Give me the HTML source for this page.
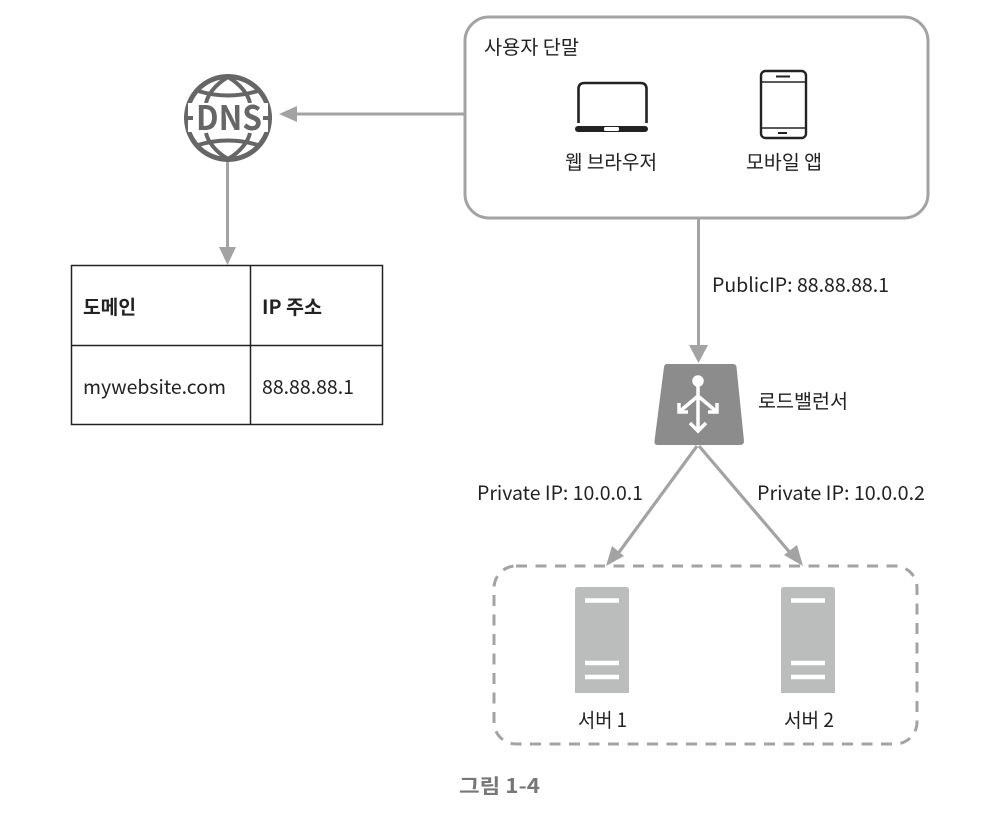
<!DOCTYPE html>
<html><head><meta charset="utf-8"><style>
html,body{margin:0;padding:0;background:#fff;width:988px;height:818px;overflow:hidden}
text{font-family:"Noto Sans CJK KR","Liberation Sans",sans-serif;font-size:19.500px;fill:#222}
</style></head><body>
<svg width="988" height="818" viewBox="0 0 988 818" xmlns="http://www.w3.org/2000/svg">
<rect width="988" height="818" fill="#fff"/>
<!-- user box -->
<rect x="465" y="17" width="463" height="201" rx="24" fill="#fff" stroke="#a3a3a3" stroke-width="3"/>
<text x="484" y="54" textLength="95" lengthAdjust="spacingAndGlyphs">사용자 단말</text>
<!-- laptop -->
<path d="M578.500 123V89q0-6 6-6h56q6 0 6 6v34" fill="none" stroke="#222" stroke-width="2.600"/>
<rect x="575" y="126" width="73" height="6" rx="3" fill="#222"/>
<rect x="604" y="127" width="15" height="4" rx="1.500" fill="#fff"/>
<!-- phone -->
<rect x="761" y="71" width="45" height="67" rx="4.500" fill="#fff" stroke="#222" stroke-width="2.400"/>
<path d="M761 82H806M761 128H806" stroke="#222" stroke-width="1.600"/>
<path d="M776 76.500H790M778 133H787" stroke="#222" stroke-width="2"/>
<text x="565" y="169" textLength="92" lengthAdjust="spacingAndGlyphs">웹 브라우저</text>
<text x="746" y="169" textLength="76" lengthAdjust="spacingAndGlyphs">모바일 앱</text>
<!-- arrows -->
<g fill="#a3a3a3" stroke="none">
<rect x="296" y="112.500" width="169" height="3"/>
<path d="M279 114L297 106V122Z"/>
<rect x="226" y="162" width="3" height="90"/>
<path d="M227.500 265L219 247H236Z"/>
<rect x="697" y="218" width="3" height="128"/>
<path d="M698.500 363L689 345H708Z"/>
</g>
<g stroke="#a3a3a3" stroke-width="3.200" fill="#a3a3a3">
<path d="M697 446L617 555" fill="none"/>
<path d="M699 446L792 555" fill="none"/>
<path d="M606 566L612 546L624 556Z" stroke="none"/>
<path d="M803 566L784 555L797 545Z" stroke="none"/>
</g>
<!-- DNS -->
<g fill="none" stroke="#666">
<circle cx="228" cy="118" r="41.500" stroke-width="5"/>
<path d="M228 77C216 84 208 94 206 103M228 77C240 84 248 94 250 103" stroke-width="4"/>
<path d="M228 159C216 152 208 142 206 133M228 159C240 152 248 142 250 133" stroke-width="4"/>
<path d="M198 91Q228 100 258 91M198 145Q228 136 258 145" stroke-width="4"/>
</g>
<rect x="188" y="103" width="80" height="29" fill="#fff"/>
<path d="M184 118H193M263 118H272" stroke="#666" stroke-width="4"/>
<text x="196" y="130" textLength="66" lengthAdjust="spacingAndGlyphs" style="font-size:34px;font-weight:700;fill:#666">DNS</text>
<!-- table -->
<g fill="none" stroke="#222" stroke-width="1.500">
<rect x="71.500" y="265.500" width="311" height="159"/>
<path d="M71.500 345.500H382.500M250.500 265.500V424.500"/>
</g>
<text x="83" y="314" textLength="53" lengthAdjust="spacingAndGlyphs" style="font-weight:700">도메인</text>
<text x="262" y="314" textLength="60" lengthAdjust="spacingAndGlyphs" style="font-weight:700">IP 주소</text>
<text x="83" y="394" textLength="143" lengthAdjust="spacingAndGlyphs">mywebsite.com</text>
<text x="262" y="394" textLength="92" lengthAdjust="spacingAndGlyphs">88.88.88.1</text>
<text x="712" y="292" textLength="177" lengthAdjust="spacingAndGlyphs">PublicIP: 88.88.88.1</text>
<!-- load balancer -->
<path d="M667 364H733Q736 364 736.500 367L744 441Q744 445 740 445H658Q654 445 654.500 441L664 367Q664.500 364 667 364Z" fill="#8c8c8c"/>
<g stroke="#fff" stroke-width="3.500" fill="none">
<circle cx="698" cy="381" r="4" fill="#fff"/>
<path d="M698 381V430M698 396L679 412M698 396L717 412"/>
<path d="M690 423L698 431L706 423M679 403V412H688M717 403V412H708"/>
</g>
<text x="758" y="408" textLength="90" lengthAdjust="spacingAndGlyphs">로드밸런서</text>
<text x="477" y="500" textLength="166" lengthAdjust="spacingAndGlyphs">Private IP: 10.0.0.1</text>
<text x="757" y="500" textLength="168" lengthAdjust="spacingAndGlyphs">Private IP: 10.0.0.2</text>
<!-- servers -->
<rect x="494" y="566" width="423" height="178" rx="22" fill="none" stroke="#a3a3a3" stroke-width="3" stroke-dasharray="11 8.500"/>
<g>
<path d="M578 587H626Q629 587 629 590V693H575V590Q575 587 578 587Z" fill="#bbbdbd"/>
<path d="M585 600.500H619M585 663H619M585 677H619" stroke="#fff" stroke-width="4.500"/>
<path d="M784 587H832Q835 587 835 590V693H781V590Q781 587 784 587Z" fill="#bbbdbd"/>
<path d="M791 600.500H825M791 663H825M791 677H825" stroke="#fff" stroke-width="4.500"/>
</g>
<text x="578" y="727" textLength="49" lengthAdjust="spacingAndGlyphs">서버 1</text>
<text x="784" y="727" textLength="50" lengthAdjust="spacingAndGlyphs">서버 2</text>
<text x="459" y="793" textLength="81" lengthAdjust="spacingAndGlyphs" style="font-weight:700;fill:#777;font-size:20px">그림 1-4</text>
</svg>
</body></html>
